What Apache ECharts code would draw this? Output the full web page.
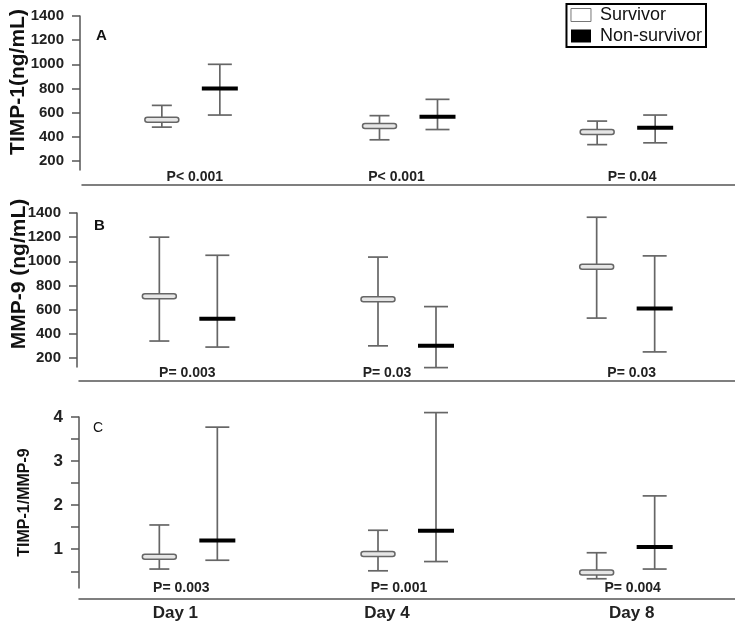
<!DOCTYPE html>
<html><head><meta charset="utf-8">
<script src="https://cdn.jsdelivr.net/npm/echarts@6/dist/echarts.min.js"></script>
<style>html,body{margin:0;padding:0;background:#fff}#c{width:735px;height:635px}</style>
</head><body><div id="c"></div>
<script>
// ---- data (each row: [low, median, high]) ----
const days = ['Day 1', 'Day 4', 'Day 8'];
const timpSurv = [[480, 540, 660], [375, 490, 575], [335, 440, 530]];
const timpNon  = [[580, 800, 1000], [460, 565, 710], [350, 475, 580]];
const mmpSurv  = [[340, 710, 1200], [300, 685, 1035], [530, 955, 1365]];
const mmpNon   = [[290, 525, 1050], [120, 300, 625], [250, 610, 1045]];
const ratioSurv = [[0.55, 0.83, 1.55], [0.51, 0.89, 1.43], [0.33, 0.47, 0.92]];
const ratioNon  = [[0.75, 1.20, 3.77], [0.72, 1.42, 4.10], [0.55, 1.05, 2.21]];
const pA = ['P< 0.001', 'P< 0.001', 'P= 0.04'];
const pB = ['P= 0.003', 'P= 0.03', 'P= 0.03'];
const pC = ['P= 0.003', 'P= 0.001', 'P= 0.004'];
const concTicks = [200, 400, 600, 800, 1000, 1200, 1400];
const ratioTicks = [0.5, 1, 1.5, 2, 2.5, 3, 3.5, 4];
const ratioLabels = [1, 2, 3, 4];

const FONT = 'Liberation Sans, Arial, sans-serif';
const AX = '#555';
const chart = echarts.init(document.getElementById('c'));

function rows(arr) { return arr.map((r, i) => [i, r[0], r[1], r[2]]); }

function makeRender(kind) {
  return function (params, api) {
    const cat = api.value(0);
    const pLo = api.coord([cat, api.value(1)]);
    const pMed = api.coord([cat, api.value(2)]);
    const pHi = api.coord([cat, api.value(3)]);
    const surv = kind === 's';
    const x = pLo[0] + (surv ? -29 : 29);
    const cap = surv ? 10 : 12;
    const ls = { stroke: '#666', lineWidth: 1.7 };
    const children = [
      { type: 'line', shape: { x1: x, y1: pHi[1], x2: x, y2: pLo[1] }, style: ls },
      { type: 'line', shape: { x1: x - cap, y1: pHi[1], x2: x + cap, y2: pHi[1] }, style: ls },
      { type: 'line', shape: { x1: x - cap, y1: pLo[1], x2: x + cap, y2: pLo[1] }, style: ls }
    ];
    if (surv) {
      children.push({ type: 'rect', shape: { x: x - 17, y: pMed[1] - 2.5, width: 34, height: 5, r: 2.5 },
        style: { fill: '#e6e6e6', stroke: '#666', lineWidth: 1.5 } });
    } else {
      children.push({ type: 'rect', shape: { x: x - 18, y: pMed[1] - 2, width: 36, height: 4 },
        style: { fill: '#000' } });
    }
    return { type: 'group', children: children };
  };
}

function yAx(grid, min, max, name, ticks, labels, nameGap, pad, nameSize, labelSize, margin, offset) {
  return {
    type: 'value', gridIndex: grid, min: min, max: max, offset: offset,
    name: name, nameLocation: 'middle', nameGap: nameGap, nameRotate: 90, nameMoveOverlap: false,
    nameTextStyle: { fontFamily: FONT, fontWeight: 'bold', fontSize: nameSize, color: '#111', padding: pad },
    splitLine: { show: false },
    axisLine: { show: true, lineStyle: { color: AX, width: 1.5 } },
    axisTick: { show: true, length: 8, lineStyle: { color: AX, width: 1.5 }, customValues: ticks },
    axisLabel: { fontFamily: FONT, fontWeight: 'bold', fontSize: labelSize, color: '#222', margin: margin,
      customValues: labels, formatter: v => String(v) }
  };
}

// per-category horizontal nudges of category labels (layout only)
function nudgeRich(shifts, size) {
  const r = {};
  shifts.forEach((s, i) => {
    r['p' + i] = { fontFamily: FONT, fontWeight: 'bold', fontSize: size, color: '#222',
      padding: s >= 0 ? [0, 0, 0, 2 * s] : [0, -2 * s, 0, 0] };
  });
  return r;
}

function xAx(grid, offset, labels, margin, shifts) {
  return {
    type: 'category', gridIndex: grid, data: days, position: 'bottom', offset: offset,
    axisLine: { show: true, lineStyle: { color: AX, width: 1.5 } },
    axisTick: { show: false },
    axisLabel: { inside: true, margin: margin, fontFamily: FONT, fontWeight: 'bold', fontSize: 14, color: '#222',
      rich: nudgeRich(shifts, 14), formatter: (v, i) => '{p' + i + '|' + labels[i] + '}' }
  };
}

function ser(name, xi, yi, arr, kind) {
  return { type: 'custom', name: name, xAxisIndex: xi, yAxisIndex: yi, data: rows(arr),
    renderItem: makeRender(kind), encode: { x: 0, y: [1, 2, 3] }, clip: false,
    itemStyle: { color: kind === 's' ? '#fff' : '#000' } };
}

const option = {
  animation: false,
  backgroundColor: '#fff',
  title: [
    { text: 'A', left: 91, top: 23, textStyle: { fontFamily: FONT, fontWeight: 'bold', fontSize: 15, color: '#111' } },
    { text: 'B', left: 89, top: 213, textStyle: { fontFamily: FONT, fontWeight: 'bold', fontSize: 15, color: '#111' } },
    { text: 'C', left: 88, top: 416, textStyle: { fontFamily: FONT, fontWeight: 'normal', fontSize: 14, color: '#111' } }
  ],
  legend: {
    orient: 'vertical', right: 29, top: 4, padding: [2, 4, 2, 4], itemGap: 3,
    itemWidth: 20, itemHeight: 13, borderColor: '#000', borderWidth: 2, backgroundColor: '#fff',
    textStyle: { fontFamily: FONT, fontSize: 18, color: '#111', padding: [0, 0, 0, 4] },
    data: [
      { name: 'Survivor', icon: 'rect', itemStyle: { color: '#fff', borderColor: '#777', borderWidth: 1 } },
      { name: 'Non-survivor', icon: 'rect', itemStyle: { color: '#000' } }
    ]
  },
  grid: [
    { left: 79, right: 0, top: 16, height: 154 },
    { left: 79, right: 0, top: 213, height: 154 },
    { left: 79, right: 0, top: 417, height: 171 }
  ],
  xAxis: [
    xAx(0, 15, pA, 1, [4, -12, 6]),
    xAx(1, 14, pB, 1, [-1, -20, 6]),
    xAx(2, 11, pC, 4, [-7, -8, 7]),
    { type: 'category', gridIndex: 2, data: days, position: 'bottom', offset: 11,
      axisLine: { show: false }, axisTick: { show: false },
      axisLabel: { margin: 6, fontFamily: FONT, fontWeight: 'bold', fontSize: 17, color: '#222',
        rich: nudgeRich([-13, -20, 6], 17), formatter: (v, i) => '{p' + i + '|' + v + '}' } }
  ],
  yAxis: [
    yAx(0, 125, 1400, 'TIMP-1(ng/mL)', concTicks, concTicks, 51, [0, 0, 0, 22], 21, 15, 16, 2),
    yAx(1, 125, 1400, 'MMP-9 (ng/mL)', concTicks, concTicks, 47, [0, 0, 0, 32], 21, 15, 16, 2),
    yAx(2, 0.12, 4, 'TIMP-1/MMP-9', ratioTicks, ratioLabels, 46, [0, 0, 0, 0], 16, 17, 16, 0)
  ],
  series: [
    ser('Survivor', 0, 0, timpSurv, 's'),
    ser('Non-survivor', 0, 0, timpNon, 'n'),
    ser('Survivor', 1, 1, mmpSurv, 's'),
    ser('Non-survivor', 1, 1, mmpNon, 'n'),
    ser('Survivor', 2, 2, ratioSurv, 's'),
    ser('Non-survivor', 2, 2, ratioNon, 'n')
  ]
};
chart.setOption(option);
</script>
</body></html>
